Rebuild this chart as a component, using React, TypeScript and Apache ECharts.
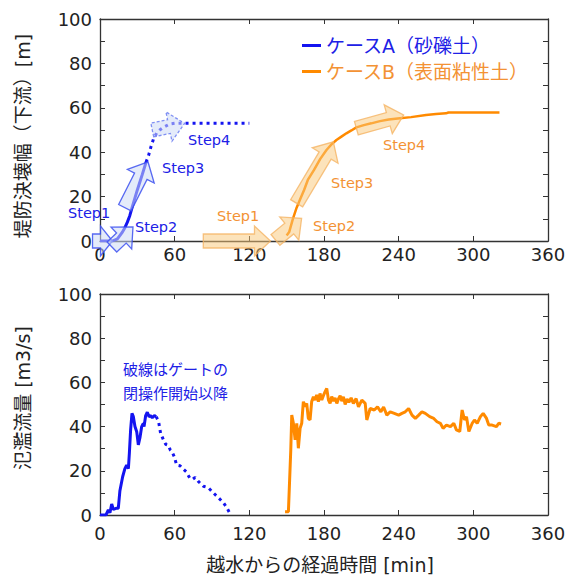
import React, { useEffect, useRef } from "react";
import * as echarts from "echarts";

const FONT = "'DejaVu Sans', 'Noto Sans CJK JP', sans-serif";
const BLUE = "#1414f0";
const ORANGE = "#ff8a00";
const BLUE_TEXT = "#2020e6";
const ORANGE_TEXT = "#f39234";

const NAME_A = "ケースA（砂礫土）";
const NAME_B = "ケースB（表面粘性土）";

const xTicks = [0, 60, 120, 180, 240, 300, 360];

// Top: breach width [m]
const widthA_solid = [
  [0, 0], [10, 0], [14, 1], [18, 4], [20, 6], [22, 8.5], [24, 11.5], [26, 15.5],
  [30, 23], [34, 30], [37, 35.5],
];
const widthA_dotted = [
  [37, 35.5], [39, 38.5], [41, 42.5], [43, 46], [45.5, 48.6], [48, 50], [51, 51.2],
  [56, 52.7], [60, 53], [80, 53], [100, 53], [120, 53],
];
const widthB = [
  [150, 2.5], [152, 4], [155, 10], [158, 15], [161, 19], [164, 23], [167, 27.5],
  [172, 32], [177, 37], [182, 41], [186, 43.5], [190, 45.5], [194, 47], [198, 48.5],
  [202, 49.8], [206, 51.2], [212, 52.2], [218, 53], [225, 54], [232, 54.7],
  [241, 55.3], [250, 55.8], [262, 56.8], [270, 57.2], [278, 57.5], [280, 57.9],
  [300, 57.9], [321, 57.9],
];

// Step arrows [x_tail, y_tail, x_tip, y_tip]
const arrowsA = [
  [-6, 0, 10, 0],
  [9.6, -2.7, 26.5, 6.3],
  [20, 15, 38.6, 35.6],
  [42, 50, 68, 53],
];
const arrowsADashed = [false, false, false, true];
const arrowsB = [
  [83, 0, 137, 0],
  [141, 0.5, 162, 10.2],
  [158, 17, 187.5, 44.7],
  [206, 50.8, 244, 56.8],
];

// Bottom: overflow discharge [m3/s]
const flowA_solid = [
  [0, 0], [4.8, 0], [6.7, 2.3], [8, 1], [9.4, 5], [10.7, 2.5], [12.9, 3], [14.7, 3],
  [16, 11], [18.2, 17.3], [20, 21], [21.4, 22.5], [22.8, 21], [23.6, 28], [24.6, 38.5],
  [25.7, 46], [26.8, 44.5], [28.1, 40], [29.5, 37.7], [30.8, 31.7], [32.1, 35],
  [33.5, 40], [34.8, 41.5], [35.4, 40], [36.7, 45], [38, 46.5], [39.4, 44.5],
  [40.7, 45], [42, 44], [43.7, 45], [45.1, 44.5],
];
const flowA_dotted = [
  [45.1, 44.5], [47, 42.5], [48.7, 37], [51, 34], [52.8, 32], [55, 31.5], [56.4, 29.5],
  [57.7, 28.8], [59.6, 26.5], [61.6, 22.6], [64.3, 22.3], [66.5, 21], [69.2, 19.6],
  [72.4, 16.5], [74.5, 16.2], [76.4, 17], [79, 15.2], [83.1, 13], [87.1, 12.3],
  [91.1, 10], [95.2, 7.8], [99.2, 5.5], [101.9, 3.3], [104.6, 0.5],
];
const flowB = [
  [148.7, 1.5], [151.4, 1.5], [153.3, 29.4], [154.1, 45.2], [155.4, 41.5], [156.8, 34],
  [158.1, 41.5], [159.4, 30.2], [160.8, 39.2], [162.1, 41.5], [163.4, 51.3], [164.8, 49],
  [166.1, 50.5], [167.4, 43.7], [168.8, 43], [170.1, 51.3], [171.5, 53.5], [172.8, 52],
  [174.1, 54.3], [175.5, 51.3], [176.8, 55], [178.2, 52], [179.5, 54], [180.9, 55.8],
  [182.2, 57.3], [183.6, 52], [184.9, 50.5], [186.2, 53.6], [187.6, 51.5], [188.9, 53],
  [190.3, 50.5], [191.6, 52.5], [193, 54], [194.3, 51.5], [195.6, 53.5], [197, 50],
  [198.5, 52.5], [200, 51], [201.8, 53], [203.6, 50.5], [205.8, 52.7], [207.7, 48.9],
  [210.4, 52], [213.1, 50.5], [214.4, 43], [217.1, 48.2], [220.4, 47.5], [223, 48.9],
  [225.7, 46.7], [227.9, 48.9], [230.5, 45.2], [233.2, 46.7], [236.5, 46], [240, 45.2],
  [242.6, 46], [245.3, 46.7], [248, 48.2], [250.7, 45.2], [253.4, 43.7], [256.1, 45.2],
  [258.7, 46.7], [261.4, 46], [264.9, 44.5], [268.2, 43.7], [270.8, 42.2], [273.5, 41.5],
  [275.7, 39.2], [278.4, 40.7], [281.6, 40], [284.3, 41.5], [286.4, 38.5], [289.1, 37.8],
  [291, 47.5], [292.9, 43], [294.5, 44.5], [296.4, 37.8], [299.1, 41.5], [300.9, 43],
  [303.1, 41.5], [305.7, 44.5], [307.9, 46], [310.6, 43.7], [312.4, 40.7], [315.1, 40.7],
  [318.6, 40], [320.4, 41.5], [322.3, 41.2],
];

const stepLabelsA = ["Step1", "Step2", "Step3", "Step4"];
const stepLabelsB = ["Step1", "Step2", "Step3", "Step4"];

function makeArrowRenderer(kind: "A" | "B") {
  return (params: any, api: any) => {
    const p1 = api.coord([api.value(0), api.value(1)]);
    const p2 = api.coord([api.value(2), api.value(3)]);
    const dx = p2[0] - p1[0];
    const dy = p2[1] - p1[1];
    const L = Math.hypot(dx, dy) || 1;
    const ux = dx / L, uy = dy / L;
    const nx = -uy, ny = ux;
    const hw = 7, hh = 15, hl = Math.min(16, L * 0.6);
    const bx = p2[0] - ux * hl, by = p2[1] - uy * hl;
    const pts = [
      [p1[0] + nx * hw, p1[1] + ny * hw],
      [bx + nx * hw, by + ny * hw],
      [bx + nx * hh, by + ny * hh],
      [p2[0], p2[1]],
      [bx - nx * hh, by - ny * hh],
      [bx - nx * hw, by - ny * hw],
      [p1[0] - nx * hw, p1[1] - ny * hw],
    ];
    const dashed = kind === "A" && arrowsADashed[params.dataIndex];
    const style =
      kind === "A"
        ? {
            fill: "rgba(205,218,245,0.55)",
            stroke: dashed ? "rgba(90,110,240,0.75)" : "rgba(60,80,240,0.85)",
            lineWidth: 1.3,
            lineDash: dashed ? [3, 2] : null,
          }
        : {
            fill: "rgba(250,200,120,0.5)",
            stroke: "rgba(245,180,100,0.8)",
            lineWidth: 1.3,
          };
    return { type: "polygon", shape: { points: pts }, style };
  };
}

function axisPair(gridIndex: number, labelMargin: number) {
  const common = {
    gridIndex,
    type: "value" as const,
    min: xTicks[0],
    max: xTicks[xTicks.length - 1],
    interval: xTicks[1] - xTicks[0],
    axisLine: { show: true, onZero: false, lineStyle: { color: "#333", width: 1.3 } },
    axisTick: { show: true, inside: true, length: 5, lineStyle: { color: "#333" } },
    splitLine: { show: false },
  };
  return [
    {
      ...common,
      position: "bottom",
      axisLabel: {
        show: true,
        margin: labelMargin,
        fontSize: 18,
        color: "#222",
        fontFamily: FONT,
        showMinLabel: true,
        showMaxLabel: true,
      },
    },
    { ...common, position: "top", axisLabel: { show: false } },
  ];
}

function yPair(gridIndex: number) {
  const common = {
    gridIndex,
    type: "value" as const,
    min: 0,
    max: 100,
    interval: 20,
    axisLine: { show: true, onZero: false, lineStyle: { color: "#333", width: 1.3 } },
    axisTick: { show: true, inside: true, length: 5, lineStyle: { color: "#333" } },
    minorTick: { show: true, splitNumber: 2, length: 5, lineStyle: { color: "#333" } },
    splitLine: { show: false },
  };
  return [
    {
      ...common,
      position: "left",
      axisLabel: { show: true, margin: 8, fontSize: 18, color: "#222", fontFamily: FONT },
    },
    { ...common, position: "right", axisLabel: { show: false } },
  ];
}

export default function App() {
  const ref = useRef<HTMLDivElement>(null);
  useEffect(() => {
    if (!ref.current) return;
    const chart = echarts.init(ref.current, null, { renderer: "svg" });
    const stepText = (text: string, left: number, top: number, color: string) => ({
      type: "text",
      left,
      top,
      style: { text, fill: color, font: `14.5px ${FONT}` },
      z: 100,
    });
    const option: any = {
      animation: false,
      backgroundColor: "#fff",
      textStyle: { fontFamily: FONT },
      grid: [
        { left: 100, top: 19, width: 448, height: 222 },
        { left: 100, top: 294, width: 448, height: 221 },
      ],
      xAxis: [...axisPair(0, 4), ...axisPair(1, 9)],
      yAxis: [...yPair(0), ...yPair(1)],
      legend: {
        data: [
          { name: NAME_A, textStyle: { color: BLUE_TEXT } },
          { name: NAME_B, textStyle: { color: ORANGE_TEXT } },
        ],
        orient: "vertical",
        left: 297,
        top: 31,
        icon: "rect",
        itemWidth: 19,
        itemHeight: 3,
        itemGap: 7,
        textStyle: { fontSize: 19, fontFamily: FONT },
        selectedMode: false,
      },
      series: [
        {
          name: NAME_A,
          type: "line",
          xAxisIndex: 0,
          yAxisIndex: 0,
          data: widthA_solid,
          showSymbol: false,
          lineStyle: { color: BLUE, width: 3 },
          itemStyle: { color: BLUE },
          z: 3,
        },
        {
          name: NAME_A,
          type: "line",
          xAxisIndex: 0,
          yAxisIndex: 0,
          data: widthA_dotted,
          showSymbol: false,
          lineStyle: { color: BLUE, width: 3, type: [3, 4] },
          itemStyle: { color: BLUE },
          z: 3,
        },
        {
          name: NAME_B,
          type: "line",
          xAxisIndex: 0,
          yAxisIndex: 0,
          data: widthB,
          showSymbol: false,
          lineStyle: { color: ORANGE, width: 2.5 },
          itemStyle: { color: ORANGE },
          z: 3,
        },
        {
          type: "custom",
          xAxisIndex: 0,
          yAxisIndex: 0,
          data: arrowsA,
          renderItem: makeArrowRenderer("A"),
          clip: false,
          z: 5,
          silent: true,
        },
        {
          type: "custom",
          xAxisIndex: 0,
          yAxisIndex: 0,
          data: arrowsB,
          renderItem: makeArrowRenderer("B"),
          clip: false,
          z: 5,
          silent: true,
        },
        {
          name: NAME_A,
          type: "line",
          xAxisIndex: 2,
          yAxisIndex: 2,
          data: flowA_solid,
          showSymbol: false,
          lineStyle: { color: BLUE, width: 3 },
          itemStyle: { color: BLUE },
        },
        {
          name: NAME_A,
          type: "line",
          xAxisIndex: 2,
          yAxisIndex: 2,
          data: flowA_dotted,
          showSymbol: false,
          lineStyle: { color: BLUE, width: 3, type: [3, 4] },
          itemStyle: { color: BLUE },
        },
        {
          name: NAME_B,
          type: "line",
          xAxisIndex: 2,
          yAxisIndex: 2,
          data: flowB,
          showSymbol: false,
          lineStyle: { color: ORANGE, width: 3 },
          itemStyle: { color: ORANGE },
        },
      ],
      graphic: [
        stepText(stepLabelsA[0], 68, 206, BLUE_TEXT),
        stepText(stepLabelsA[1], 135, 220, BLUE_TEXT),
        stepText(stepLabelsA[2], 162, 161, BLUE_TEXT),
        stepText(stepLabelsA[3], 188, 133, BLUE_TEXT),
        stepText(stepLabelsB[0], 217, 209, ORANGE_TEXT),
        stepText(stepLabelsB[1], 313, 219, ORANGE_TEXT),
        stepText(stepLabelsB[2], 331, 176, ORANGE_TEXT),
        stepText(stepLabelsB[3], 383, 138, ORANGE_TEXT),
        {
          type: "text",
          left: 123,
          top: 358,
          style: {
            text: "破線はゲートの\n閉操作開始以降",
            fill: BLUE_TEXT,
            font: `15px ${FONT}`,
            lineHeight: 24,
          },
        },
        {
          type: "text",
          x: 23,
          y: 136,
          rotation: Math.PI / 2,
          style: {
            text: "堤防決壊幅（下流）[m]",
            fill: "#222",
            font: `19px ${FONT}`,
            align: "center",
            verticalAlign: "middle",
          },
        },
        {
          type: "text",
          x: 23,
          y: 398,
          rotation: Math.PI / 2,
          style: {
            text: "氾濫流量 [m3/s]",
            fill: "#222",
            font: `19px ${FONT}`,
            align: "center",
            verticalAlign: "middle",
          },
        },
        {
          type: "text",
          x: 320,
          y: 565,
          style: {
            text: "越水からの経過時間 [min]",
            fill: "#222",
            font: `19px ${FONT}`,
            align: "center",
            verticalAlign: "middle",
          },
        },
      ],
    };
    chart.setOption(option);
    return () => chart.dispose();
  }, []);
  return (
    <div
      ref={ref}
      style={{ width: 570, height: 578, position: "fixed", left: 0, top: 0 }}
    />
  );
}
